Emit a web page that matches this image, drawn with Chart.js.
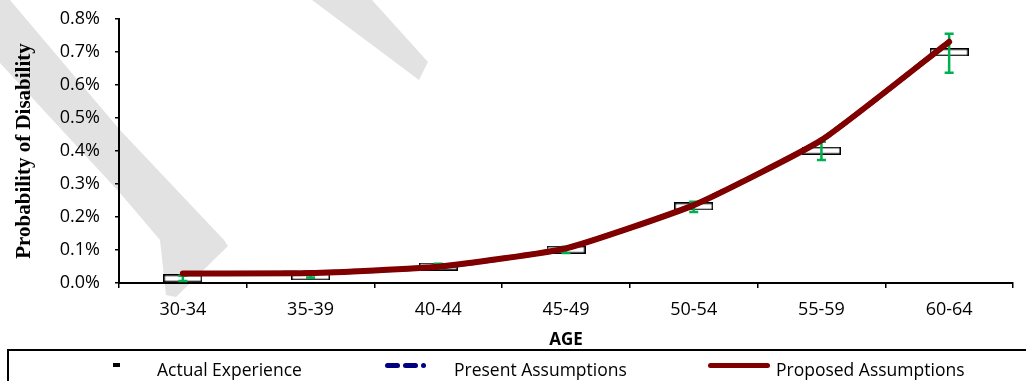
<!DOCTYPE html>
<html><head><meta charset="utf-8">
<script src="https://cdn.jsdelivr.net/npm/chart.js@4.4.1/dist/chart.umd.min.js"></script>
<style>
html,body{margin:0;padding:0;background:#fff;width:1026px;height:381px;overflow:hidden;position:relative;}
#wrap{position:absolute;left:0;top:0;width:1026px;height:350px;}
#legendBox{position:absolute;left:7px;top:349px;width:1040px;height:60px;border-top:2px solid #000;border-left:2px solid #000;box-sizing:border-box;}
.lg{position:absolute;}
.lt{position:absolute;top:358px;font-family:'Open Sans';font-size:17.5px;line-height:22px;color:#000;white-space:nowrap;}
</style></head>
<body>
<div id="wrap"><canvas id="c"></canvas></div>
<div id="legendBox"></div>
<script>
// ---- data (values in percent) ----
const categories = ['30-34','35-39','40-44','45-49','50-54','55-59','60-64'];
const actualExperience = [0.014, 0.020, 0.050, 0.101, 0.232, 0.401, 0.699];
const errorLow  = [0.006, 0.016, 0.045, 0.091, 0.215, 0.373, 0.637];
const errorHigh = [0.022, 0.024, 0.058, 0.110, 0.246, 0.428, 0.755];
const presentAssumptions  = [0.029, 0.030, 0.049, 0.105, 0.236, 0.433, 0.731];
const proposedAssumptions = [0.029, 0.030, 0.049, 0.105, 0.236, 0.433, 0.731];
const yTicks = [0,0.1,0.2,0.3,0.4,0.5,0.6,0.7,0.8];
const seriesNames = ['Actual Experience','Present Assumptions','Proposed Assumptions'];

// rectangle marker for actual experience
const box = document.createElement('canvas');
box.width = 39; box.height = 8;
(function(){const g=box.getContext('2d');g.fillStyle='#fff';g.fillRect(0,0,39,8);g.strokeStyle='#000';g.lineWidth=1.5;g.strokeRect(0.75,0.75,37.5,6.5);})();

// decorative watermark (background)
const watermark = {
  id:'watermark',
  beforeDraw(chart){
    const ctx = chart.ctx;
    ctx.save();
    ctx.fillStyle = '#e2e2e2';
    const shapes = [
      [[0,0],[10,0],[120,130],[224,240],[228,246],[176,297],[166,295],[160,240],[120,193],[0,63]],
      [[312,0],[372,0],[428,62],[419,80]]
    ];
    shapes.forEach(s=>{ctx.beginPath();s.forEach((p,i)=>i?ctx.lineTo(p[0],p[1]):ctx.moveTo(p[0],p[1]));ctx.closePath();ctx.fill();});
    ctx.restore();
  }
};

const errorBars = {
  id:'errorBars',
  beforeDatasetDraw(chart, args){
    if(args.index !== 1) return;
    const ctx = chart.ctx, x = chart.scales.x, y = chart.scales.y;
    ctx.save();
    ctx.strokeStyle = '#00b050';
    ctx.lineWidth = 2.5;
    categories.forEach((c,i)=>{
      const px = x.getPixelForValue(i);
      const t = y.getPixelForValue(errorHigh[i]);
      const b = y.getPixelForValue(errorLow[i]);
      ctx.beginPath();
      ctx.moveTo(px,t); ctx.lineTo(px,b);
      ctx.moveTo(px-4.5,t); ctx.lineTo(px+4.5,t);
      ctx.moveTo(px-4.5,b); ctx.lineTo(px+4.5,b);
      ctx.stroke();
    });
    ctx.restore();
  }
};

const chart = new Chart(document.getElementById('c'), {
  type:'line',
  data:{
    labels:categories,
    datasets:[
      {label:seriesNames[0], data:actualExperience, showLine:false, pointStyle:box, pointRadius:4, order:3},
      {label:seriesNames[1], data:presentAssumptions, borderColor:'#000080', borderWidth:5, borderDash:[14,6], pointRadius:0, tension:0.15, order:2},
      {label:seriesNames[2], data:proposedAssumptions, borderColor:'#800000', borderWidth:6, borderCapStyle:'round', borderJoinStyle:'round', pointRadius:0, tension:0.15, order:1}
    ]
  },
  options:{
    responsive:true, maintainAspectRatio:false, animation:false,
    layout:{padding:{left:0,right:13,top:19,bottom:0}},
    plugins:{legend:{display:false}, tooltip:{enabled:false}},
    scales:{
      x:{
        offset:true,
        grid:{offset:true, drawOnChartArea:false, drawTicks:true, tickLength:5, color:'#000', lineWidth:1.5},
        border:{display:true, color:'#000', width:2},
        ticks:{color:'#000', padding:11, font:{family:'Open Sans', size:18}},
        title:{display:true, text:'AGE', color:'#000', font:{family:'Open Sans', size:17, weight:'bold'}, padding:{top:0,bottom:0}},
        afterFit(s){ s.height = 67; }
      },
      y:{
        min:0, max:0.8,
        afterBuildTicks(s){ s.ticks = yTicks.map(v=>({value:v})); },
        grid:{drawOnChartArea:false, drawTicks:true, tickLength:4, color:'#000', lineWidth:1.5},
        border:{display:true, color:'#000', width:2},
        ticks:{color:'#000', padding:15, font:{family:'Open Sans', size:18}, callback:v=>v.toFixed(1)+'%'},
        title:{display:true, text:'Probability of Disability', color:'#000', font:{family:'Liberation Serif', size:21, weight:'bold'}, padding:{top:12,bottom:0}},
        afterFit(s){ s.width = 119; s.paddingTop = 0; s.paddingBottom = 0; }
      }
    }
  },
  plugins:[watermark, errorBars]
});

// HTML legend built from dataset labels
(function(){
  const add=(css,cls,txt)=>{const d=document.createElement('div');d.className=cls;d.style.cssText=css;if(txt)d.textContent=txt;document.body.appendChild(d);};
  const ds = chart.data.datasets;
  add('left:113px;top:363px;width:7px;height:3.5px;background:#000;','lg');
  add('left:157px;','lt',ds[0].label);
  add('left:385px;top:363px;width:15px;height:4.5px;border-radius:3px;background:#000080;','lg');
  add('left:403px;top:363px;width:15px;height:4.5px;border-radius:3px;background:#000080;','lg');
  add('left:421px;top:363px;width:5px;height:4.5px;border-radius:3px;background:#000080;','lg');
  add('left:454px;','lt',ds[1].label);
  add('left:708px;top:362.5px;width:62px;height:5px;border-radius:3px;background:#800000;','lg');
  add('left:776px;','lt',ds[2].label);
})();
</script>
</body></html>
